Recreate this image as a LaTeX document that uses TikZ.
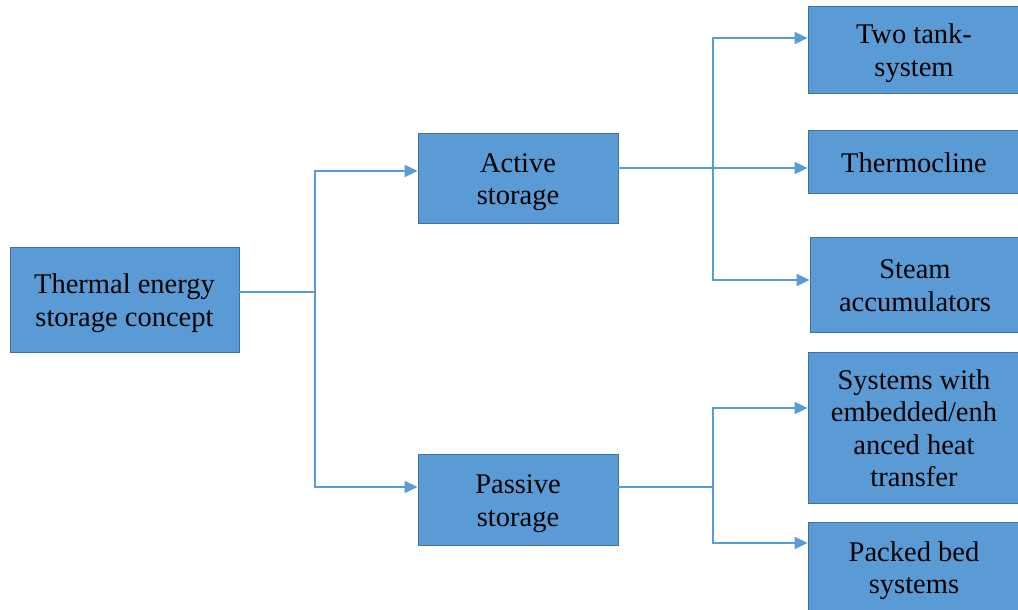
\documentclass[tikz,border=0pt]{standalone}
\usepackage{fontspec}
\setmainfont{Liberation Serif}
\usetikzlibrary{arrows.meta}
\definecolor{boxfill}{HTML}{5B9BD5}
\definecolor{boxline}{HTML}{41719C}
\definecolor{linkcol}{HTML}{5B9BD5}
% centred lines, set a little below the box centre
\newcommand\boxtext[1]{\raisebox{-4pt}[\height][\depth]{\begin{tabular}{@{}c@{}}#1\end{tabular}}}
\begin{document}
\begin{tikzpicture}[x=1pt,y=-1pt,
  block/.style={draw=boxline, line width=0.8pt, fill=boxfill, inner sep=0pt,
    text=black, font=\fontsize{28.5}{32.5}\selectfont},
  plain/.style={draw=linkcol, line width=1.8pt},
  link/.style={plain, -{Triangle[length=13pt,width=12pt]}}]
\useasboundingbox (0,0) rectangle (1018,610);
\fill[white] (0,0) rectangle (1018,610);

% root and the two storage classes
\node[block, minimum width=229pt, minimum height=105pt] (therm) at (124.5,299.5) {\boxtext{Thermal energy\\storage concept}};
\node[block, minimum width=200pt, minimum height=90pt] (act) at (518,178) {\boxtext{Active\\storage}};
\node[block, minimum width=200pt, minimum height=91pt] (pas) at (518,499.5) {\boxtext{Passive\\storage}};

% active storage variants
\node[block, minimum width=212pt, minimum height=87pt] (two) at (914,49.5) {\boxtext{Two tank-\\system}};
\node[block, minimum width=212pt, minimum height=63pt] (thermo) at (914,161.5) {\boxtext{Thermocline}};
\node[block, minimum width=210pt, minimum height=95pt] (steam) at (915,284.5) {\boxtext{Steam\\accumulators}};

% passive storage variants
\node[block, minimum width=212pt, minimum height=151pt] (sys) at (914,427.5) {\boxtext{Systems with\\embedded/enh\\anced heat\\transfer}};
\node[block, minimum width=212pt, minimum height=90pt] (pack) at (914,567) {\boxtext{Packed bed\\systems}};

% branch points
\coordinate (j1) at (315,292);
\coordinate (j2) at (713,168);
\coordinate (j3) at (713,487);

\draw[plain] (therm.east |- j1) -- (j1);
\draw[link] (j1) |- ([yshift=7pt]act.west);
\draw[link] (j1) |- ([yshift=12.5pt]pas.west);

\draw[link] ([yshift=10pt]act.east) -- ([yshift=-6.5pt]thermo.west);
\draw[link] (j2) |- ([yshift=11.5pt]two.west);
\draw[link] (j2) |- ([yshift=4.5pt]steam.west);

\draw[plain] ([yshift=12.5pt]pas.east) -- (j3);
\draw[link] (j3) |- ([yshift=19.5pt]sys.west);
\draw[link] (j3) |- ([yshift=24pt]pack.west);
\end{tikzpicture}
\end{document}
